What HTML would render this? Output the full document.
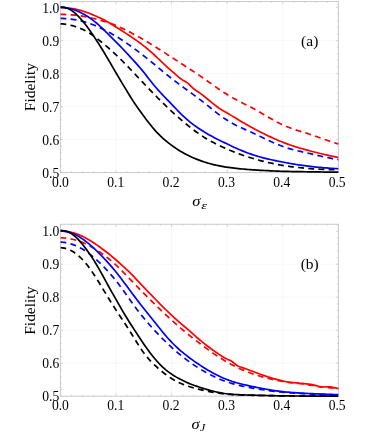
<!DOCTYPE html>
<html><head><meta charset="utf-8"><title>Fidelity</title>
<style>html,body{margin:0;padding:0;background:#fff}body{width:367px;height:433px;overflow:hidden}</style>
</head><body>
<svg width="367" height="433" viewBox="0 0 367 433" style="display:block;will-change:transform">
<style>
text{font-family:"Liberation Serif",serif;fill:#000}
.t{font-size:13.6px}
.l{font-size:15.3px}
</style>
<rect width="367" height="433" fill="#fff"/>
<path d="M116.00,1.45V172.60M171.60,1.45V172.60M227.20,1.45V172.60M282.80,1.45V172.60M60.40,40.60H338.40M60.40,73.60H338.40M60.40,106.60H338.40M60.40,139.60H338.40" stroke="#e4e4e4" stroke-width="0.6" stroke-dasharray="0.8 1.2" fill="none"/>
<path d="M60.40,172.60v-2.6M60.40,1.45v2.6M71.52,172.60v-1.5M71.52,1.45v1.5M82.64,172.60v-1.5M82.64,1.45v1.5M93.76,172.60v-1.5M93.76,1.45v1.5M104.88,172.60v-1.5M104.88,1.45v1.5M116.00,172.60v-2.6M116.00,1.45v2.6M127.12,172.60v-1.5M127.12,1.45v1.5M138.24,172.60v-1.5M138.24,1.45v1.5M149.36,172.60v-1.5M149.36,1.45v1.5M160.48,172.60v-1.5M160.48,1.45v1.5M171.60,172.60v-2.6M171.60,1.45v2.6M182.72,172.60v-1.5M182.72,1.45v1.5M193.84,172.60v-1.5M193.84,1.45v1.5M204.96,172.60v-1.5M204.96,1.45v1.5M216.08,172.60v-1.5M216.08,1.45v1.5M227.20,172.60v-2.6M227.20,1.45v2.6M238.32,172.60v-1.5M238.32,1.45v1.5M249.44,172.60v-1.5M249.44,1.45v1.5M260.56,172.60v-1.5M260.56,1.45v1.5M271.68,172.60v-1.5M271.68,1.45v1.5M282.80,172.60v-2.6M282.80,1.45v2.6M293.92,172.60v-1.5M293.92,1.45v1.5M305.04,172.60v-1.5M305.04,1.45v1.5M316.16,172.60v-1.5M316.16,1.45v1.5M327.28,172.60v-1.5M327.28,1.45v1.5M338.40,172.60v-2.6M338.40,1.45v2.6M60.40,172.60h2.6M338.40,172.60h-2.6M60.40,166.00h1.5M338.40,166.00h-1.5M60.40,159.40h1.5M338.40,159.40h-1.5M60.40,152.80h1.5M338.40,152.80h-1.5M60.40,146.20h1.5M338.40,146.20h-1.5M60.40,139.60h2.6M338.40,139.60h-2.6M60.40,133.00h1.5M338.40,133.00h-1.5M60.40,126.40h1.5M338.40,126.40h-1.5M60.40,119.80h1.5M338.40,119.80h-1.5M60.40,113.20h1.5M338.40,113.20h-1.5M60.40,106.60h2.6M338.40,106.60h-2.6M60.40,100.00h1.5M338.40,100.00h-1.5M60.40,93.40h1.5M338.40,93.40h-1.5M60.40,86.80h1.5M338.40,86.80h-1.5M60.40,80.20h1.5M338.40,80.20h-1.5M60.40,73.60h2.6M338.40,73.60h-2.6M60.40,67.00h1.5M338.40,67.00h-1.5M60.40,60.40h1.5M338.40,60.40h-1.5M60.40,53.80h1.5M338.40,53.80h-1.5M60.40,47.20h1.5M338.40,47.20h-1.5M60.40,40.60h2.6M338.40,40.60h-2.6M60.40,34.00h1.5M338.40,34.00h-1.5M60.40,27.40h1.5M338.40,27.40h-1.5M60.40,20.80h1.5M338.40,20.80h-1.5M60.40,14.20h1.5M338.40,14.20h-1.5M60.40,7.60h2.6M338.40,7.60h-2.6" stroke="#c4c4c4" stroke-width="0.7" fill="none"/>
<rect x="60.40" y="1.45" width="278.00" height="171.15" fill="none" stroke="#c8c8c8" stroke-width="0.95"/>
<clipPath id="ca"><rect x="60.40" y="1.45" width="278.30" height="171.95"/></clipPath>
<g clip-path="url(#ca)" fill="none" stroke-width="1.7" stroke-linejoin="round">
<path d="M60.40,7.54 L62.40,7.57 L64.40,7.65 L66.40,7.79 L68.40,7.99 L70.40,8.25 L72.40,8.57 L74.40,8.94 L76.40,9.37 L78.40,9.86 L80.40,10.39 L82.40,10.98 L84.40,11.62 L86.40,12.30 L88.40,13.03 L90.40,13.79 L92.40,14.59 L94.40,15.43 L96.40,16.29 L98.40,17.19 L100.40,18.12 L102.40,19.09 L104.40,20.10 L106.40,21.15 L108.40,22.26 L110.40,23.43 L112.40,24.67 L114.40,25.95 L116.40,27.23 L118.40,28.51 L120.40,29.79 L122.40,31.07 L124.40,32.36 L126.40,33.66 L128.40,34.97 L130.40,36.30 L132.40,37.65 L134.40,39.02 L136.40,40.42 L138.40,41.85 L140.40,43.31 L142.40,44.82 L144.40,46.37 L146.40,47.98 L148.40,49.65 L150.40,51.39 L152.40,53.17 L154.40,55.00 L156.40,56.86 L158.40,58.75 L160.40,60.64 L162.40,62.54 L164.40,64.43 L166.40,66.29 L168.40,68.13 L170.40,69.94 L172.40,71.72 L174.40,73.47 L176.40,75.21 L178.40,76.91 L180.40,78.51 L182.40,79.89 L184.40,81.02 L186.40,82.14 L188.40,83.65 L190.40,85.57 L192.40,87.57 L194.40,89.29 L196.40,90.70 L198.40,92.01 L200.40,93.39 L202.40,94.90 L204.40,96.49 L206.40,98.12 L208.40,99.77 L210.40,101.42 L212.40,103.05 L214.40,104.66 L216.40,106.22 L218.40,107.71 L220.40,109.09 L222.40,110.32 L224.40,111.44 L226.40,112.53 L228.40,113.68 L230.40,114.88 L232.40,116.11 L234.40,117.34 L236.40,118.56 L238.40,119.77 L240.40,120.97 L242.40,122.15 L244.40,123.32 L246.40,124.48 L248.40,125.61 L250.40,126.73 L252.40,127.83 L254.40,128.91 L256.40,129.97 L258.40,131.01 L260.40,132.03 L262.40,133.04 L264.40,134.03 L266.40,135.00 L268.40,135.95 L270.40,136.89 L272.40,137.81 L274.40,138.70 L276.40,139.58 L278.40,140.43 L280.40,141.26 L282.40,142.07 L284.40,142.86 L286.40,143.61 L288.40,144.34 L290.40,145.03 L292.40,145.71 L294.40,146.36 L296.40,146.98 L298.40,147.59 L300.40,148.19 L302.40,148.76 L304.40,149.33 L306.40,149.89 L308.40,150.43 L310.40,150.98 L312.40,151.51 L314.40,152.04 L316.40,152.55 L318.40,153.05 L320.40,153.54 L322.40,154.02 L324.40,154.48 L326.40,154.94 L328.40,155.38 L330.40,155.82 L332.40,156.24 L334.40,156.66 L336.40,157.07 L338.40,157.49" stroke="#ff0000"/>
<path d="M60.40,14.39 L62.40,14.42 L64.40,14.47 L66.40,14.56 L68.40,14.67 L70.40,14.80 L72.40,14.95 L74.40,15.12 L76.40,15.31 L78.40,15.54 L80.40,15.81 L82.40,16.13 L84.40,16.48 L86.40,16.88 L88.40,17.30 L90.40,17.75 L92.40,18.22 L94.40,18.71 L96.40,19.21 L98.40,19.72 L100.40,20.26 L102.40,20.81 L104.40,21.40 L106.40,22.01 L108.40,22.67 L110.40,23.37 L112.40,24.11 L114.40,24.89 L116.40,25.71 L118.40,26.57 L120.40,27.46 L122.40,28.38 L124.40,29.33 L126.40,30.32 L128.40,31.32 L130.40,32.35 L132.40,33.41 L134.40,34.48 L136.40,35.58 L138.40,36.69 L140.40,37.82 L142.40,38.97 L144.40,40.14 L146.40,41.32 L148.40,42.52 L150.40,43.74 L152.40,44.97 L154.40,46.21 L156.40,47.47 L158.40,48.74 L160.40,50.02 L162.40,51.31 L164.40,52.60 L166.40,53.89 L168.40,55.18 L170.40,56.48 L172.40,57.77 L174.40,59.07 L176.40,60.36 L178.40,61.66 L180.40,62.96 L182.40,64.26 L184.40,65.56 L186.40,66.86 L188.40,68.17 L190.40,69.49 L192.40,70.80 L194.40,72.13 L196.40,73.47 L198.40,74.81 L200.40,76.17 L202.40,77.54 L204.40,78.93 L206.40,80.33 L208.40,81.74 L210.40,83.16 L212.40,84.58 L214.40,86.00 L216.40,87.40 L218.40,88.79 L220.40,90.16 L222.40,91.50 L224.40,92.80 L226.40,94.07 L228.40,95.29 L230.40,96.48 L232.40,97.62 L234.40,98.73 L236.40,99.81 L238.40,100.85 L240.40,101.88 L242.40,102.90 L244.40,103.91 L246.40,104.92 L248.40,105.95 L250.40,106.99 L252.40,108.04 L254.40,109.12 L256.40,110.23 L258.40,111.35 L260.40,112.49 L262.40,113.65 L264.40,114.81 L266.40,115.98 L268.40,117.14 L270.40,118.30 L272.40,119.44 L274.40,120.56 L276.40,121.65 L278.40,122.71 L280.40,123.73 L282.40,124.71 L284.40,125.63 L286.40,126.50 L288.40,127.31 L290.40,128.07 L292.40,128.78 L294.40,129.45 L296.40,130.09 L298.40,130.71 L300.40,131.32 L302.40,131.92 L304.40,132.54 L306.40,133.17 L308.40,133.81 L310.40,134.48 L312.40,135.16 L314.40,135.86 L316.40,136.56 L318.40,137.27 L320.40,137.98 L322.40,138.68 L324.40,139.37 L326.40,140.06 L328.40,140.74 L330.40,141.41 L332.40,142.08 L334.40,142.74 L336.40,143.40 L338.40,144.04" stroke="#ff0000" stroke-dasharray="5.9 4.3"/>
<path d="M60.40,7.35 L62.40,7.42 L64.40,7.60 L66.40,7.88 L68.40,8.25 L70.40,8.72 L72.40,9.29 L74.40,9.94 L76.40,10.69 L78.40,11.53 L80.40,12.45 L82.40,13.46 L84.40,14.55 L86.40,15.73 L88.40,17.00 L90.40,18.36 L92.40,19.81 L94.40,21.36 L96.40,22.99 L98.40,24.71 L100.40,26.52 L102.40,28.39 L104.40,30.33 L106.40,32.31 L108.40,34.31 L110.40,36.32 L112.40,38.33 L114.40,40.33 L116.40,42.35 L118.40,44.38 L120.40,46.44 L122.40,48.52 L124.40,50.62 L126.40,52.75 L128.40,54.89 L130.40,57.06 L132.40,59.24 L134.40,61.44 L136.40,63.66 L138.40,65.93 L140.40,68.24 L142.40,70.62 L144.40,73.08 L146.40,75.60 L148.40,78.17 L150.40,80.74 L152.40,83.27 L154.40,85.72 L156.40,88.07 L158.40,90.34 L160.40,92.52 L162.40,94.65 L164.40,96.73 L166.40,98.80 L168.40,100.87 L170.40,102.95 L172.40,105.04 L174.40,107.14 L176.40,109.25 L178.40,111.33 L180.40,113.37 L182.40,115.33 L184.40,117.20 L186.40,118.99 L188.40,120.69 L190.40,122.31 L192.40,123.86 L194.40,125.35 L196.40,126.79 L198.40,128.19 L200.40,129.53 L202.40,130.83 L204.40,132.07 L206.40,133.27 L208.40,134.42 L210.40,135.53 L212.40,136.61 L214.40,137.65 L216.40,138.67 L218.40,139.67 L220.40,140.67 L222.40,141.65 L224.40,142.63 L226.40,143.61 L228.40,144.57 L230.40,145.53 L232.40,146.47 L234.40,147.40 L236.40,148.30 L238.40,149.18 L240.40,150.04 L242.40,150.86 L244.40,151.66 L246.40,152.44 L248.40,153.18 L250.40,153.90 L252.40,154.59 L254.40,155.24 L256.40,155.87 L258.40,156.47 L260.40,157.04 L262.40,157.59 L264.40,158.10 L266.40,158.60 L268.40,159.07 L270.40,159.53 L272.40,159.97 L274.40,160.40 L276.40,160.81 L278.40,161.22 L280.40,161.61 L282.40,162.00 L284.40,162.39 L286.40,162.76 L288.40,163.13 L290.40,163.49 L292.40,163.83 L294.40,164.17 L296.40,164.50 L298.40,164.81 L300.40,165.12 L302.40,165.41 L304.40,165.68 L306.40,165.95 L308.40,166.20 L310.40,166.44 L312.40,166.67 L314.40,166.89 L316.40,167.09 L318.40,167.29 L320.40,167.47 L322.40,167.65 L324.40,167.81 L326.40,167.97 L328.40,168.12 L330.40,168.27 L332.40,168.40 L334.40,168.52 L336.40,168.64 L338.40,168.75" stroke="#0000ff"/>
<path d="M60.40,18.42 L62.40,18.45 L64.40,18.53 L66.40,18.66 L68.40,18.83 L70.40,19.05 L72.40,19.31 L74.40,19.61 L76.40,19.96 L78.40,20.35 L80.40,20.78 L82.40,21.26 L84.40,21.79 L86.40,22.38 L88.40,23.02 L90.40,23.71 L92.40,24.46 L94.40,25.27 L96.40,26.12 L98.40,27.01 L100.40,27.95 L102.40,28.92 L104.40,29.93 L106.40,30.96 L108.40,32.02 L110.40,33.10 L112.40,34.21 L114.40,35.35 L116.40,36.52 L118.40,37.73 L120.40,38.98 L122.40,40.27 L124.40,41.60 L126.40,42.96 L128.40,44.35 L130.40,45.77 L132.40,47.21 L134.40,48.68 L136.40,50.16 L138.40,51.67 L140.40,53.19 L142.40,54.73 L144.40,56.30 L146.40,57.88 L148.40,59.48 L150.40,61.10 L152.40,62.74 L154.40,64.39 L156.40,66.05 L158.40,67.71 L160.40,69.37 L162.40,71.03 L164.40,72.67 L166.40,74.30 L168.40,75.91 L170.40,77.50 L172.40,79.07 L174.40,80.62 L176.40,82.15 L178.40,83.66 L180.40,85.15 L182.40,86.63 L184.40,88.10 L186.40,89.56 L188.40,91.01 L190.40,92.46 L192.40,93.92 L194.40,95.38 L196.40,96.85 L198.40,98.34 L200.40,99.86 L202.40,101.39 L204.40,102.96 L206.40,104.55 L208.40,106.15 L210.40,107.77 L212.40,109.38 L214.40,110.97 L216.40,112.55 L218.40,114.08 L220.40,115.58 L222.40,117.03 L224.40,118.42 L226.40,119.74 L228.40,121.00 L230.40,122.20 L232.40,123.33 L234.40,124.39 L236.40,125.41 L238.40,126.37 L240.40,127.31 L242.40,128.22 L244.40,129.11 L246.40,130.00 L248.40,130.90 L250.40,131.81 L252.40,132.73 L254.40,133.67 L256.40,134.63 L258.40,135.60 L260.40,136.57 L262.40,137.53 L264.40,138.49 L266.40,139.44 L268.40,140.37 L270.40,141.28 L272.40,142.18 L274.40,143.05 L276.40,143.90 L278.40,144.73 L280.40,145.52 L282.40,146.29 L284.40,147.01 L286.40,147.69 L288.40,148.33 L290.40,148.92 L292.40,149.48 L294.40,150.00 L296.40,150.49 L298.40,150.96 L300.40,151.42 L302.40,151.87 L304.40,152.31 L306.40,152.76 L308.40,153.22 L310.40,153.68 L312.40,154.15 L314.40,154.62 L316.40,155.09 L318.40,155.56 L320.40,156.02 L322.40,156.47 L324.40,156.91 L326.40,157.34 L328.40,157.77 L330.40,158.18 L332.40,158.58 L334.40,158.98 L336.40,159.37 L338.40,159.74" stroke="#0000ff" stroke-dasharray="5.9 4.3"/>
<path d="M60.40,6.86 L62.40,7.00 L64.40,7.37 L66.40,7.95 L68.40,8.77 L70.40,9.82 L72.40,11.11 L74.40,12.65 L76.40,14.41 L78.40,16.38 L80.40,18.53 L82.40,20.84 L84.40,23.28 L86.40,25.85 L88.40,28.52 L90.40,31.30 L92.40,34.17 L94.40,37.12 L96.40,40.16 L98.40,43.27 L100.40,46.45 L102.40,49.70 L104.40,53.00 L106.40,56.35 L108.40,59.74 L110.40,63.16 L112.40,66.61 L114.40,70.06 L116.40,73.50 L118.40,76.90 L120.40,80.25 L122.40,83.57 L124.40,86.87 L126.40,90.16 L128.40,93.44 L130.40,96.68 L132.40,99.85 L134.40,102.92 L136.40,105.88 L138.40,108.75 L140.40,111.54 L142.40,114.27 L144.40,116.97 L146.40,119.64 L148.40,122.25 L150.40,124.80 L152.40,127.27 L154.40,129.62 L156.40,131.85 L158.40,133.95 L160.40,135.93 L162.40,137.80 L164.40,139.57 L166.40,141.25 L168.40,142.85 L170.40,144.39 L172.40,145.87 L174.40,147.29 L176.40,148.64 L178.40,149.94 L180.40,151.18 L182.40,152.35 L184.40,153.47 L186.40,154.54 L188.40,155.55 L190.40,156.51 L192.40,157.42 L194.40,158.29 L196.40,159.12 L198.40,159.91 L200.40,160.65 L202.40,161.36 L204.40,162.03 L206.40,162.65 L208.40,163.24 L210.40,163.80 L212.40,164.32 L214.40,164.80 L216.40,165.25 L218.40,165.68 L220.40,166.07 L222.40,166.44 L224.40,166.79 L226.40,167.11 L228.40,167.41 L230.40,167.69 L232.40,167.95 L234.40,168.19 L236.40,168.42 L238.40,168.63 L240.40,168.83 L242.40,169.02 L244.40,169.19 L246.40,169.36 L248.40,169.51 L250.40,169.65 L252.40,169.79 L254.40,169.92 L256.40,170.04 L258.40,170.16 L260.40,170.28 L262.40,170.39 L264.40,170.50 L266.40,170.61 L268.40,170.72 L270.40,170.82 L272.40,170.92 L274.40,171.01 L276.40,171.10 L278.40,171.18 L280.40,171.25 L282.40,171.32 L284.40,171.37 L286.40,171.43 L288.40,171.47 L290.40,171.51 L292.40,171.55 L294.40,171.59 L296.40,171.62 L298.40,171.65 L300.40,171.68 L302.40,171.71 L304.40,171.74 L306.40,171.77 L308.40,171.80 L310.40,171.82 L312.40,171.85 L314.40,171.88 L316.40,171.91 L318.40,171.94 L320.40,171.97 L322.40,172.01 L324.40,172.04 L326.40,172.07 L328.40,172.10 L330.40,172.13 L332.40,172.16 L334.40,172.18 L336.40,172.19 L338.40,172.20" stroke="#000000"/>
<path d="M60.40,23.87 L62.40,23.94 L64.40,24.12 L66.40,24.40 L68.40,24.76 L70.40,25.19 L72.40,25.69 L74.40,26.26 L76.40,26.90 L78.40,27.61 L80.40,28.41 L82.40,29.30 L84.40,30.28 L86.40,31.35 L88.40,32.53 L90.40,33.79 L92.40,35.15 L94.40,36.59 L96.40,38.09 L98.40,39.65 L100.40,41.25 L102.40,42.88 L104.40,44.54 L106.40,46.22 L108.40,47.94 L110.40,49.68 L112.40,51.47 L114.40,53.29 L116.40,55.16 L118.40,57.07 L120.40,59.02 L122.40,61.01 L124.40,63.03 L126.40,65.08 L128.40,67.16 L130.40,69.25 L132.40,71.35 L134.40,73.47 L136.40,75.59 L138.40,77.72 L140.40,79.84 L142.40,81.95 L144.40,84.06 L146.40,86.17 L148.40,88.26 L150.40,90.34 L152.40,92.41 L154.40,94.47 L156.40,96.51 L158.40,98.53 L160.40,100.54 L162.40,102.52 L164.40,104.48 L166.40,106.42 L168.40,108.33 L170.40,110.22 L172.40,112.07 L174.40,113.90 L176.40,115.70 L178.40,117.48 L180.40,119.22 L182.40,120.93 L184.40,122.61 L186.40,124.26 L188.40,125.88 L190.40,127.46 L192.40,129.01 L194.40,130.53 L196.40,132.00 L198.40,133.43 L200.40,134.81 L202.40,136.14 L204.40,137.43 L206.40,138.65 L208.40,139.83 L210.40,140.96 L212.40,142.05 L214.40,143.09 L216.40,144.10 L218.40,145.08 L220.40,146.04 L222.40,146.97 L224.40,147.88 L226.40,148.76 L228.40,149.63 L230.40,150.48 L232.40,151.30 L234.40,152.10 L236.40,152.88 L238.40,153.63 L240.40,154.36 L242.40,155.06 L244.40,155.75 L246.40,156.41 L248.40,157.06 L250.40,157.69 L252.40,158.30 L254.40,158.89 L256.40,159.47 L258.40,160.03 L260.40,160.58 L262.40,161.10 L264.40,161.61 L266.40,162.10 L268.40,162.57 L270.40,163.02 L272.40,163.45 L274.40,163.86 L276.40,164.26 L278.40,164.63 L280.40,164.99 L282.40,165.33 L284.40,165.66 L286.40,165.97 L288.40,166.26 L290.40,166.54 L292.40,166.81 L294.40,167.06 L296.40,167.30 L298.40,167.53 L300.40,167.74 L302.40,167.94 L304.40,168.14 L306.40,168.32 L308.40,168.49 L310.40,168.64 L312.40,168.79 L314.40,168.93 L316.40,169.05 L318.40,169.16 L320.40,169.26 L322.40,169.34 L324.40,169.42 L326.40,169.48 L328.40,169.54 L330.40,169.59 L332.40,169.64 L334.40,169.70 L336.40,169.76 L338.40,169.83" stroke="#000000" stroke-dasharray="5.9 4.3"/>
</g>
<text x="59.20" y="177.60" text-anchor="end" class="t">0.5</text>
<text x="59.20" y="144.60" text-anchor="end" class="t">0.6</text>
<text x="59.20" y="111.60" text-anchor="end" class="t">0.7</text>
<text x="59.20" y="78.60" text-anchor="end" class="t">0.8</text>
<text x="59.20" y="45.60" text-anchor="end" class="t">0.9</text>
<text x="59.20" y="12.60" text-anchor="end" class="t">1.0</text>
<text x="60.40" y="187.30" text-anchor="middle" class="t">0.0</text>
<text x="115.75" y="187.30" text-anchor="middle" class="t">0.1</text>
<text x="171.10" y="187.30" text-anchor="middle" class="t">0.2</text>
<text x="226.45" y="187.30" text-anchor="middle" class="t">0.3</text>
<text x="281.80" y="187.30" text-anchor="middle" class="t">0.4</text>
<text x="337.15" y="187.30" text-anchor="middle" class="t">0.5</text>
<text transform="translate(34.8,87.10) rotate(-90)" x="-24.1" textLength="48.2" lengthAdjust="spacingAndGlyphs" class="l">Fidelity</text>
<text x="309.7" y="45.70" text-anchor="middle" font-size="15.5">(a)</text>
<text transform="translate(192.30,205.80) scale(1.17,1)" font-size="14.2" font-style="italic">σ</text>
<text transform="translate(201.20,208.70) scale(1.32,1)" font-size="11" font-style="italic">ε</text>
<path d="M116.00,224.25V396.20M171.60,224.25V396.20M227.20,224.25V396.20M282.80,224.25V396.20M60.40,264.20H338.40M60.40,297.20H338.40M60.40,330.20H338.40M60.40,363.20H338.40" stroke="#e4e4e4" stroke-width="0.6" stroke-dasharray="0.8 1.2" fill="none"/>
<path d="M60.40,396.20v-2.6M60.40,224.25v2.6M71.52,396.20v-1.5M71.52,224.25v1.5M82.64,396.20v-1.5M82.64,224.25v1.5M93.76,396.20v-1.5M93.76,224.25v1.5M104.88,396.20v-1.5M104.88,224.25v1.5M116.00,396.20v-2.6M116.00,224.25v2.6M127.12,396.20v-1.5M127.12,224.25v1.5M138.24,396.20v-1.5M138.24,224.25v1.5M149.36,396.20v-1.5M149.36,224.25v1.5M160.48,396.20v-1.5M160.48,224.25v1.5M171.60,396.20v-2.6M171.60,224.25v2.6M182.72,396.20v-1.5M182.72,224.25v1.5M193.84,396.20v-1.5M193.84,224.25v1.5M204.96,396.20v-1.5M204.96,224.25v1.5M216.08,396.20v-1.5M216.08,224.25v1.5M227.20,396.20v-2.6M227.20,224.25v2.6M238.32,396.20v-1.5M238.32,224.25v1.5M249.44,396.20v-1.5M249.44,224.25v1.5M260.56,396.20v-1.5M260.56,224.25v1.5M271.68,396.20v-1.5M271.68,224.25v1.5M282.80,396.20v-2.6M282.80,224.25v2.6M293.92,396.20v-1.5M293.92,224.25v1.5M305.04,396.20v-1.5M305.04,224.25v1.5M316.16,396.20v-1.5M316.16,224.25v1.5M327.28,396.20v-1.5M327.28,224.25v1.5M338.40,396.20v-2.6M338.40,224.25v2.6M60.40,396.20h2.6M338.40,396.20h-2.6M60.40,389.60h1.5M338.40,389.60h-1.5M60.40,383.00h1.5M338.40,383.00h-1.5M60.40,376.40h1.5M338.40,376.40h-1.5M60.40,369.80h1.5M338.40,369.80h-1.5M60.40,363.20h2.6M338.40,363.20h-2.6M60.40,356.60h1.5M338.40,356.60h-1.5M60.40,350.00h1.5M338.40,350.00h-1.5M60.40,343.40h1.5M338.40,343.40h-1.5M60.40,336.80h1.5M338.40,336.80h-1.5M60.40,330.20h2.6M338.40,330.20h-2.6M60.40,323.60h1.5M338.40,323.60h-1.5M60.40,317.00h1.5M338.40,317.00h-1.5M60.40,310.40h1.5M338.40,310.40h-1.5M60.40,303.80h1.5M338.40,303.80h-1.5M60.40,297.20h2.6M338.40,297.20h-2.6M60.40,290.60h1.5M338.40,290.60h-1.5M60.40,284.00h1.5M338.40,284.00h-1.5M60.40,277.40h1.5M338.40,277.40h-1.5M60.40,270.80h1.5M338.40,270.80h-1.5M60.40,264.20h2.6M338.40,264.20h-2.6M60.40,257.60h1.5M338.40,257.60h-1.5M60.40,251.00h1.5M338.40,251.00h-1.5M60.40,244.40h1.5M338.40,244.40h-1.5M60.40,237.80h1.5M338.40,237.80h-1.5M60.40,231.20h2.6M338.40,231.20h-2.6M60.40,224.60h1.5M338.40,224.60h-1.5" stroke="#c4c4c4" stroke-width="0.7" fill="none"/>
<rect x="60.40" y="224.25" width="278.00" height="171.95" fill="none" stroke="#c8c8c8" stroke-width="0.95"/>
<clipPath id="cb"><rect x="60.40" y="224.25" width="278.30" height="172.75"/></clipPath>
<g clip-path="url(#cb)" fill="none" stroke-width="1.7" stroke-linejoin="round">
<path d="M60.40,231.06 L62.40,231.10 L64.40,231.19 L66.40,231.38 L68.40,231.66 L70.40,232.04 L72.40,232.52 L74.40,233.10 L76.40,233.78 L78.40,234.54 L80.40,235.40 L82.40,236.33 L84.40,237.34 L86.40,238.42 L88.40,239.55 L90.40,240.75 L92.40,242.00 L94.40,243.30 L96.40,244.66 L98.40,246.06 L100.40,247.51 L102.40,248.99 L104.40,250.48 L106.40,252.00 L108.40,253.54 L110.40,255.14 L112.40,256.80 L114.40,258.50 L116.40,260.24 L118.40,262.00 L120.40,263.79 L122.40,265.61 L124.40,267.45 L126.40,269.31 L128.40,271.20 L130.40,273.13 L132.40,275.13 L134.40,277.20 L136.40,279.32 L138.40,281.48 L140.40,283.64 L142.40,285.78 L144.40,287.89 L146.40,289.97 L148.40,292.05 L150.40,294.12 L152.40,296.18 L154.40,298.23 L156.40,300.28 L158.40,302.31 L160.40,304.32 L162.40,306.32 L164.40,308.29 L166.40,310.24 L168.40,312.17 L170.40,314.07 L172.40,315.94 L174.40,317.77 L176.40,319.56 L178.40,321.33 L180.40,323.07 L182.40,324.79 L184.40,326.49 L186.40,328.20 L188.40,329.92 L190.40,331.67 L192.40,333.45 L194.40,335.24 L196.40,337.02 L198.40,338.76 L200.40,340.44 L202.40,342.06 L204.40,343.65 L206.40,345.21 L208.40,346.73 L210.40,348.23 L212.40,349.70 L214.40,351.13 L216.40,352.54 L218.40,353.91 L220.40,355.25 L222.40,356.55 L224.40,357.78 L226.40,358.84 L228.40,359.69 L230.40,360.52 L232.40,361.74 L234.40,363.40 L236.40,365.02 L238.40,366.19 L240.40,366.97 L242.40,367.64 L244.40,368.33 L246.40,369.07 L248.40,369.82 L250.40,370.57 L252.40,371.32 L254.40,372.07 L256.40,372.80 L258.40,373.53 L260.40,374.25 L262.40,374.96 L264.40,375.65 L266.40,376.32 L268.40,376.98 L270.40,377.62 L272.40,378.24 L274.40,378.83 L276.40,379.39 L278.40,379.93 L280.40,380.44 L282.40,380.91 L284.40,381.33 L286.40,381.70 L288.40,382.02 L290.40,382.29 L292.40,382.52 L294.40,382.72 L296.40,382.90 L298.40,383.07 L300.40,383.24 L302.40,383.41 L304.40,383.59 L306.40,383.80 L308.40,384.04 L310.40,384.34 L312.40,384.71 L314.40,385.16 L316.40,385.69 L318.40,386.22 L320.40,386.67 L322.40,386.93 L324.40,386.99 L326.40,386.91 L328.40,386.85 L330.40,386.94 L332.40,387.23 L334.40,387.65 L336.40,388.12 L338.40,388.46" stroke="#ff0000"/>
<path d="M60.40,237.77 L62.40,237.83 L64.40,237.98 L66.40,238.20 L68.40,238.49 L70.40,238.83 L72.40,239.24 L74.40,239.71 L76.40,240.25 L78.40,240.86 L80.40,241.56 L82.40,242.35 L84.40,243.22 L86.40,244.16 L88.40,245.18 L90.40,246.27 L92.40,247.42 L94.40,248.63 L96.40,249.89 L98.40,251.20 L100.40,252.56 L102.40,253.97 L104.40,255.43 L106.40,256.95 L108.40,258.52 L110.40,260.15 L112.40,261.84 L114.40,263.59 L116.40,265.42 L118.40,267.31 L120.40,269.27 L122.40,271.28 L124.40,273.33 L126.40,275.40 L128.40,277.49 L130.40,279.57 L132.40,281.65 L134.40,283.72 L136.40,285.78 L138.40,287.83 L140.40,289.87 L142.40,291.90 L144.40,293.92 L146.40,295.93 L148.40,297.93 L150.40,299.92 L152.40,301.90 L154.40,303.87 L156.40,305.82 L158.40,307.76 L160.40,309.68 L162.40,311.59 L164.40,313.47 L166.40,315.34 L168.40,317.18 L170.40,319.01 L172.40,320.81 L174.40,322.59 L176.40,324.36 L178.40,326.11 L180.40,327.83 L182.40,329.54 L184.40,331.23 L186.40,332.89 L188.40,334.54 L190.40,336.16 L192.40,337.77 L194.40,339.35 L196.40,340.91 L198.40,342.45 L200.40,343.97 L202.40,345.48 L204.40,346.96 L206.40,348.43 L208.40,349.87 L210.40,351.30 L212.40,352.70 L214.40,354.08 L216.40,355.43 L218.40,356.75 L220.40,358.04 L222.40,359.29 L224.40,360.52 L226.40,361.71 L228.40,362.86 L230.40,363.98 L232.40,365.06 L234.40,366.10 L236.40,367.11 L238.40,368.08 L240.40,369.00 L242.40,369.88 L244.40,370.72 L246.40,371.53 L248.40,372.30 L250.40,373.03 L252.40,373.74 L254.40,374.42 L256.40,375.07 L258.40,375.70 L260.40,376.30 L262.40,376.87 L264.40,377.42 L266.40,377.95 L268.40,378.45 L270.40,378.93 L272.40,379.38 L274.40,379.82 L276.40,380.23 L278.40,380.63 L280.40,381.01 L282.40,381.36 L284.40,381.70 L286.40,382.01 L288.40,382.30 L290.40,382.57 L292.40,382.83 L294.40,383.07 L296.40,383.30 L298.40,383.53 L300.40,383.75 L302.40,383.99 L304.40,384.23 L306.40,384.50 L308.40,384.79 L310.40,385.12 L312.40,385.47 L314.40,385.85 L316.40,386.22 L318.40,386.58 L320.40,386.89 L322.40,387.14 L324.40,387.33 L326.40,387.49 L328.40,387.63 L330.40,387.79 L332.40,387.98 L334.40,388.20 L336.40,388.41 L338.40,388.61" stroke="#ff0000" stroke-dasharray="5.9 4.3"/>
<path d="M60.40,231.00 L62.40,231.08 L64.40,231.29 L66.40,231.63 L68.40,232.10 L70.40,232.69 L72.40,233.41 L74.40,234.26 L76.40,235.23 L78.40,236.32 L80.40,237.54 L82.40,238.87 L84.40,240.30 L86.40,241.83 L88.40,243.45 L90.40,245.14 L92.40,246.90 L94.40,248.72 L96.40,250.60 L98.40,252.54 L100.40,254.55 L102.40,256.62 L104.40,258.75 L106.40,260.92 L108.40,263.13 L110.40,265.38 L112.40,267.67 L114.40,270.02 L116.40,272.44 L118.40,274.95 L120.40,277.54 L122.40,280.20 L124.40,282.90 L126.40,285.62 L128.40,288.35 L130.40,291.05 L132.40,293.73 L134.40,296.38 L136.40,299.01 L138.40,301.61 L140.40,304.18 L142.40,306.73 L144.40,309.26 L146.40,311.77 L148.40,314.27 L150.40,316.77 L152.40,319.27 L154.40,321.78 L156.40,324.28 L158.40,326.78 L160.40,329.25 L162.40,331.70 L164.40,334.09 L166.40,336.43 L168.40,338.69 L170.40,340.87 L172.40,342.97 L174.40,344.98 L176.40,346.91 L178.40,348.75 L180.40,350.52 L182.40,352.22 L184.40,353.86 L186.40,355.44 L188.40,356.97 L190.40,358.46 L192.40,359.91 L194.40,361.33 L196.40,362.71 L198.40,364.07 L200.40,365.40 L202.40,366.70 L204.40,367.97 L206.40,369.21 L208.40,370.41 L210.40,371.57 L212.40,372.69 L214.40,373.77 L216.40,374.80 L218.40,375.80 L220.40,376.75 L222.40,377.66 L224.40,378.52 L226.40,379.33 L228.40,380.10 L230.40,380.82 L232.40,381.50 L234.40,382.13 L236.40,382.72 L238.40,383.27 L240.40,383.78 L242.40,384.27 L244.40,384.74 L246.40,385.19 L248.40,385.63 L250.40,386.06 L252.40,386.48 L254.40,386.90 L256.40,387.31 L258.40,387.71 L260.40,388.12 L262.40,388.51 L264.40,388.89 L266.40,389.26 L268.40,389.61 L270.40,389.95 L272.40,390.27 L274.40,390.58 L276.40,390.87 L278.40,391.13 L280.40,391.38 L282.40,391.61 L284.40,391.83 L286.40,392.03 L288.40,392.21 L290.40,392.38 L292.40,392.54 L294.40,392.69 L296.40,392.83 L298.40,392.96 L300.40,393.08 L302.40,393.20 L304.40,393.31 L306.40,393.41 L308.40,393.51 L310.40,393.60 L312.40,393.69 L314.40,393.78 L316.40,393.87 L318.40,393.95 L320.40,394.03 L322.40,394.12 L324.40,394.20 L326.40,394.28 L328.40,394.36 L330.40,394.43 L332.40,394.50 L334.40,394.57 L336.40,394.62 L338.40,394.65" stroke="#0000ff"/>
<path d="M60.40,242.14 L62.40,242.22 L64.40,242.44 L66.40,242.78 L68.40,243.23 L70.40,243.78 L72.40,244.42 L74.40,245.16 L76.40,245.99 L78.40,246.92 L80.40,247.95 L82.40,249.09 L84.40,250.33 L86.40,251.67 L88.40,253.11 L90.40,254.63 L92.40,256.23 L94.40,257.92 L96.40,259.68 L98.40,261.52 L100.40,263.44 L102.40,265.43 L104.40,267.49 L106.40,269.61 L108.40,271.80 L110.40,274.05 L112.40,276.36 L114.40,278.75 L116.40,281.23 L118.40,283.79 L120.40,286.44 L122.40,289.16 L124.40,291.94 L126.40,294.76 L128.40,297.58 L130.40,300.39 L132.40,303.18 L134.40,305.93 L136.40,308.64 L138.40,311.28 L140.40,313.87 L142.40,316.38 L144.40,318.83 L146.40,321.21 L148.40,323.54 L150.40,325.81 L152.40,328.04 L154.40,330.22 L156.40,332.36 L158.40,334.46 L160.40,336.52 L162.40,338.54 L164.40,340.52 L166.40,342.46 L168.40,344.37 L170.40,346.24 L172.40,348.06 L174.40,349.85 L176.40,351.60 L178.40,353.30 L180.40,354.96 L182.40,356.57 L184.40,358.14 L186.40,359.67 L188.40,361.15 L190.40,362.59 L192.40,363.99 L194.40,365.34 L196.40,366.66 L198.40,367.94 L200.40,369.18 L202.40,370.38 L204.40,371.54 L206.40,372.67 L208.40,373.75 L210.40,374.79 L212.40,375.80 L214.40,376.76 L216.40,377.69 L218.40,378.57 L220.40,379.41 L222.40,380.22 L224.40,380.98 L226.40,381.70 L228.40,382.38 L230.40,383.02 L232.40,383.62 L234.40,384.18 L236.40,384.70 L238.40,385.20 L240.40,385.66 L242.40,386.10 L244.40,386.52 L246.40,386.92 L248.40,387.31 L250.40,387.68 L252.40,388.04 L254.40,388.40 L256.40,388.75 L258.40,389.08 L260.40,389.41 L262.40,389.73 L264.40,390.03 L266.40,390.33 L268.40,390.60 L270.40,390.87 L272.40,391.12 L274.40,391.36 L276.40,391.59 L278.40,391.81 L280.40,392.01 L282.40,392.20 L284.40,392.38 L286.40,392.55 L288.40,392.71 L290.40,392.86 L292.40,393.00 L294.40,393.14 L296.40,393.27 L298.40,393.39 L300.40,393.50 L302.40,393.61 L304.40,393.71 L306.40,393.81 L308.40,393.90 L310.40,393.99 L312.40,394.07 L314.40,394.15 L316.40,394.23 L318.40,394.30 L320.40,394.37 L322.40,394.44 L324.40,394.50 L326.40,394.56 L328.40,394.62 L330.40,394.67 L332.40,394.72 L334.40,394.76 L336.40,394.80 L338.40,394.82" stroke="#0000ff" stroke-dasharray="5.9 4.3"/>
<path d="M60.40,230.38 L62.40,230.48 L64.40,230.78 L66.40,231.30 L68.40,232.04 L70.40,233.04 L72.40,234.31 L74.40,235.85 L76.40,237.64 L78.40,239.67 L80.40,241.89 L82.40,244.26 L84.40,246.77 L86.40,249.39 L88.40,252.13 L90.40,254.99 L92.40,257.99 L94.40,261.14 L96.40,264.44 L98.40,267.87 L100.40,271.41 L102.40,275.03 L104.40,278.70 L106.40,282.36 L108.40,286.00 L110.40,289.59 L112.40,293.13 L114.40,296.63 L116.40,300.11 L118.40,303.59 L120.40,307.08 L122.40,310.55 L124.40,313.96 L126.40,317.30 L128.40,320.54 L130.40,323.68 L132.40,326.77 L134.40,329.84 L136.40,332.91 L138.40,335.98 L140.40,339.03 L142.40,342.05 L144.40,345.00 L146.40,347.86 L148.40,350.62 L150.40,353.27 L152.40,355.81 L154.40,358.24 L156.40,360.56 L158.40,362.77 L160.40,364.85 L162.40,366.81 L164.40,368.63 L166.40,370.32 L168.40,371.87 L170.40,373.32 L172.40,374.66 L174.40,375.93 L176.40,377.13 L178.40,378.26 L180.40,379.34 L182.40,380.36 L184.40,381.33 L186.40,382.24 L188.40,383.10 L190.40,383.92 L192.40,384.70 L194.40,385.43 L196.40,386.14 L198.40,386.82 L200.40,387.47 L202.40,388.10 L204.40,388.72 L206.40,389.32 L208.40,389.90 L210.40,390.47 L212.40,391.00 L214.40,391.51 L216.40,391.99 L218.40,392.43 L220.40,392.83 L222.40,393.19 L224.40,393.50 L226.40,393.77 L228.40,394.00 L230.40,394.20 L232.40,394.36 L234.40,394.50 L236.40,394.62 L238.40,394.72 L240.40,394.81 L242.40,394.88 L244.40,394.95 L246.40,395.01 L248.40,395.06 L250.40,395.11 L252.40,395.16 L254.40,395.20 L256.40,395.25 L258.40,395.30 L260.40,395.35 L262.40,395.40 L264.40,395.45 L266.40,395.50 L268.40,395.56 L270.40,395.61 L272.40,395.66 L274.40,395.70 L276.40,395.75 L278.40,395.79 L280.40,395.82 L282.40,395.85 L284.40,395.88 L286.40,395.91 L288.40,395.93 L290.40,395.95 L292.40,395.97 L294.40,395.99 L296.40,396.01 L298.40,396.02 L300.40,396.04 L302.40,396.05 L304.40,396.07 L306.40,396.08 L308.40,396.10 L310.40,396.11 L312.40,396.12 L314.40,396.13 L316.40,396.14 L318.40,396.15 L320.40,396.16 L322.40,396.17 L324.40,396.17 L326.40,396.18 L328.40,396.18 L330.40,396.19 L332.40,396.19 L334.40,396.19 L336.40,396.20 L338.40,396.20" stroke="#000000"/>
<path d="M60.40,247.71 L62.40,247.82 L64.40,248.14 L66.40,248.66 L68.40,249.37 L70.40,250.26 L72.40,251.32 L74.40,252.57 L76.40,254.02 L78.40,255.66 L80.40,257.50 L82.40,259.52 L84.40,261.72 L86.40,264.09 L88.40,266.62 L90.40,269.32 L92.40,272.18 L94.40,275.18 L96.40,278.30 L98.40,281.51 L100.40,284.79 L102.40,288.10 L104.40,291.42 L106.40,294.72 L108.40,297.99 L110.40,301.22 L112.40,304.41 L114.40,307.55 L116.40,310.64 L118.40,313.69 L120.40,316.71 L122.40,319.71 L124.40,322.71 L126.40,325.75 L128.40,328.83 L130.40,331.99 L132.40,335.21 L134.40,338.47 L136.40,341.72 L138.40,344.92 L140.40,348.01 L142.40,350.94 L144.40,353.68 L146.40,356.24 L148.40,358.61 L150.40,360.82 L152.40,362.90 L154.40,364.86 L156.40,366.73 L158.40,368.52 L160.40,370.24 L162.40,371.89 L164.40,373.47 L166.40,374.98 L168.40,376.41 L170.40,377.75 L172.40,379.02 L174.40,380.19 L176.40,381.28 L178.40,382.29 L180.40,383.23 L182.40,384.09 L184.40,384.89 L186.40,385.62 L188.40,386.31 L190.40,386.95 L192.40,387.55 L194.40,388.12 L196.40,388.66 L198.40,389.17 L200.40,389.67 L202.40,390.14 L204.40,390.60 L206.40,391.03 L208.40,391.45 L210.40,391.84 L212.40,392.22 L214.40,392.57 L216.40,392.89 L218.40,393.19 L220.40,393.46 L222.40,393.70 L224.40,393.92 L226.40,394.11 L228.40,394.28 L230.40,394.43 L232.40,394.56 L234.40,394.68 L236.40,394.78 L238.40,394.87 L240.40,394.96 L242.40,395.03 L244.40,395.10 L246.40,395.16 L248.40,395.21 L250.40,395.26 L252.40,395.31 L254.40,395.35 L256.40,395.40 L258.40,395.44 L260.40,395.48 L262.40,395.52 L264.40,395.56 L266.40,395.60 L268.40,395.64 L270.40,395.67 L272.40,395.71 L274.40,395.75 L276.40,395.78 L278.40,395.81 L280.40,395.83 L282.40,395.86 L284.40,395.88 L286.40,395.90 L288.40,395.92 L290.40,395.94 L292.40,395.96 L294.40,395.97 L296.40,395.99 L298.40,396.01 L300.40,396.02 L302.40,396.04 L304.40,396.05 L306.40,396.06 L308.40,396.08 L310.40,396.09 L312.40,396.10 L314.40,396.11 L316.40,396.12 L318.40,396.13 L320.40,396.14 L322.40,396.15 L324.40,396.16 L326.40,396.17 L328.40,396.17 L330.40,396.18 L332.40,396.18 L334.40,396.19 L336.40,396.19 L338.40,396.19" stroke="#000000" stroke-dasharray="5.9 4.3"/>
</g>
<text x="59.20" y="401.20" text-anchor="end" class="t">0.5</text>
<text x="59.20" y="368.20" text-anchor="end" class="t">0.6</text>
<text x="59.20" y="335.20" text-anchor="end" class="t">0.7</text>
<text x="59.20" y="302.20" text-anchor="end" class="t">0.8</text>
<text x="59.20" y="269.20" text-anchor="end" class="t">0.9</text>
<text x="59.20" y="236.20" text-anchor="end" class="t">1.0</text>
<text x="60.40" y="410.20" text-anchor="middle" class="t">0.0</text>
<text x="115.75" y="410.20" text-anchor="middle" class="t">0.1</text>
<text x="171.10" y="410.20" text-anchor="middle" class="t">0.2</text>
<text x="226.45" y="410.20" text-anchor="middle" class="t">0.3</text>
<text x="281.80" y="410.20" text-anchor="middle" class="t">0.4</text>
<text x="337.15" y="410.20" text-anchor="middle" class="t">0.5</text>
<text transform="translate(34.8,310.70) rotate(-90)" x="-24.1" textLength="48.2" lengthAdjust="spacingAndGlyphs" class="l">Fidelity</text>
<text x="309.7" y="269.30" text-anchor="middle" font-size="15.5">(b)</text>
<text transform="translate(191.50,429.40) scale(1.17,1)" font-size="14.2" font-style="italic">σ</text>
<text transform="translate(200.10,431.20) scale(1.15,1)" font-size="10.3" font-style="italic">J</text>
</svg>
</body></html>
